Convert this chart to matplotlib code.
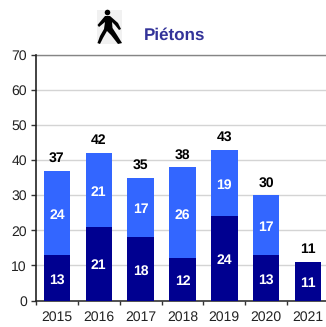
#!/usr/bin/env python
# -*- coding: utf-8 -*-
import matplotlib
matplotlib.use('Agg')
import matplotlib.pyplot as plt
from matplotlib.patches import Circle, Polygon, Rectangle

years = ['2015', '2016', '2017', '2018', '2019', '2020', '2021']
bottom_vals = [13, 21, 18, 12, 24, 13, 11]
top_vals = [24, 21, 17, 26, 19, 17, 0]
totals = [37, 42, 35, 38, 43, 30, 11]
yticks = [0, 10, 20, 30, 40, 50, 60, 70]

W, H = 326, 327
plt.rcParams['font.family'] = ['Liberation Sans', 'DejaVu Sans']
plt.rcParams['text.hinting'] = 'no_hinting'
plt.rcParams['text.hinting_factor'] = 1

fig = plt.figure(figsize=(W/100, H/100), dpi=100)
ax = fig.add_axes([36/W, 1-300.5/H, 293/W, 245.5/H])

x = list(range(len(years)))
ax.bar(x, bottom_vals, width=0.63, color='#000090', zorder=3)
ax.bar(x, top_vals, width=0.63, bottom=bottom_vals, color='#3366FF', zorder=3)

# labels, small downward shift in points as in the reference
for i in x:
    ax.annotate(str(bottom_vals[i]), (i, bottom_vals[i]/2), xytext=(0, -1.5), textcoords='offset points',
                color='white', fontsize=10, fontweight='bold', ha='center', va='center', zorder=4)
    if top_vals[i] > 0:
        ax.annotate(str(top_vals[i]), (i, bottom_vals[i]+top_vals[i]/2), xytext=(0, -1.5), textcoords='offset points',
                    color='white', fontsize=10, fontweight='bold', ha='center', va='center', zorder=4)
    ax.text(i, totals[i]+1.7, str(totals[i]), color='black', fontsize=10,
            fontweight='bold', ha='center', va='bottom', zorder=4)

ax.set_xlim(-0.5, 6.5)
ax.set_ylim(0, 70)
ax.set_yticks(yticks)
ax.set_xticks([i-0.5 for i in x])
ax.set_xticklabels([])
ax.set_xticks(x, minor=True)
ax.set_xticklabels(years, minor=True)
ax.tick_params(axis='x', which='minor', length=0, labelsize=10, pad=7.5, labelcolor='#222222')
ax.tick_params(axis='x', which='major', direction='out', length=3, width=1, color='#333333')
ax.tick_params(axis='y', direction='out', length=3.5, width=1, color='#333333', labelsize=10, pad=3, labelcolor='#222222')
ax.yaxis.grid(True, color='#d4d4d4', linewidth=1, zorder=0)
ax.set_axisbelow(True)

ax.spines['right'].set_visible(False)
ax.spines['top'].set_color('#858585')
ax.spines['top'].set_linewidth(1.0)
ax.spines['left'].set_color('#222222')
ax.spines['left'].set_linewidth(1.2)
ax.spines['left'].set_zorder(5)
ax.spines['bottom'].set_color('#333333')
ax.spines['bottom'].set_linewidth(1.2)

fig.text(144/W, 1-35/H, 'Piétons', color='#333399', fontsize=12.5, fontweight='bold', ha='left', va='center')

# pedestrian icon, pixel coords
def px(a, b):
    return (a/W, 1-b/H)

fig.add_artist(Rectangle(px(97, 44), 25/W, 34/H, transform=fig.transFigure, color='#f1f1f1', lw=0))
fig.add_artist(Circle(px(107.5, 12.5), 2.8/W, transform=fig.transFigure, color='black', lw=0))
body = [(105, 16), (110, 16), (118, 23), (121, 29), (119, 30), (115, 25), (112, 22), (112.5, 28),
        (117, 35), (122, 43), (118, 44), (111, 35), (107, 31), (103, 38), (100, 44), (97.5, 43),
        (100, 36), (104, 29), (105, 22), (99, 27), (97.5, 25)]
fig.add_artist(Polygon([px(a, b) for a, b in body], closed=True, transform=fig.transFigure,
                       color='black', lw=0))

fig.savefig('out.png', dpi=100)
